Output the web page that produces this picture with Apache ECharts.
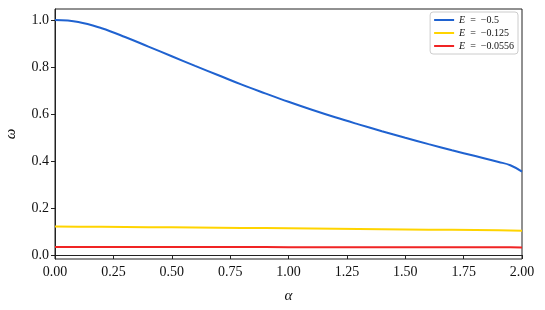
<!DOCTYPE html>
<html><head><meta charset="utf-8">
<script src="https://cdn.jsdelivr.net/npm/echarts@6/dist/echarts.min.js"></script>
<style>html,body{margin:0;padding:0;background:#fff}#c{width:545px;height:310px}</style>
</head><body><div id="c"></div>
<script>
const alpha = [0,0.1,0.2,0.3,0.4,0.5,0.6,0.7,0.8,0.9,1.0,1.1,1.2,1.3,1.4,1.5,1.6,1.7,1.8,1.9,1.95,2.0];
const omegaE05 = [1.0,0.992,0.965,0.928,0.887,0.846,0.805,0.765,0.725,0.688,0.652,0.618,0.586,0.556,0.527,0.499,0.472,0.446,0.421,0.396,0.382,0.355];
const omegaE0125 = [0.121,0.120,0.120,0.119,0.118,0.118,0.117,0.116,0.115,0.115,0.114,0.113,0.112,0.111,0.110,0.109,0.108,0.107,0.106,0.105,0.104,0.103];
const omegaE0556 = [0.0345,0.0344,0.0343,0.0342,0.0341,0.034,0.0339,0.0338,0.0337,0.0336,0.0335,0.0334,0.0333,0.0332,0.0331,0.033,0.0329,0.0328,0.0327,0.0326,0.0325,0.0324];
const seriesNames = ['E = −0.5','E = −0.125','E = −0.0556'];
const yTicks = [0,0.2,0.4,0.6,0.8,1.0];
const colors = ['#1f62d0','#ffd400','#f02424'];
const font = 'Liberation Serif';
function pairs(ys){ return alpha.map((a,i)=>[a, ys[i]]); }
const chart = echarts.init(document.getElementById('c'), null, {renderer:'canvas'});
const mk = (name, ys, c, sm) => ({name, type:'line', data:pairs(ys), smooth:sm, showSymbol:false, symbol:'none', lineStyle:{color:c,width:2}, itemStyle:{color:c}, animation:false});
chart.setOption({
  animation:false,
  grid:{left:55,right:23,top:9,bottom:51,show:true,borderColor:'#222',borderWidth:1,containLabel:false,outerBoundsMode:'none'},
  legend:{
    right:27, top:12, orient:'vertical', itemGap:3, itemWidth:20, itemHeight:2, icon:'rect',
    borderColor:'#cccccc', borderWidth:1, borderRadius:3, padding:[3,4,3,4],
    backgroundColor:'#fff',
    textStyle:{fontFamily:font,fontSize:10,color:'#111',
      rich:{i:{fontFamily:font,fontSize:10,fontStyle:'italic',color:'#111'},n:{fontFamily:font,fontSize:10,color:'#111'}}},
    formatter: n => '{i|E}{n|  =  ' + n.slice(4) + '}',
    data: seriesNames
  },
  xAxis:{type:'value',min:0,max:2,interval:0.25,
    axisLine:{show:true,lineStyle:{color:'#222',width:1}},
    axisTick:{show:true,length:4,lineStyle:{color:'#222'}},
    splitLine:{show:false},
    axisLabel:{fontFamily:font,fontSize:14,color:'#111',margin:6,formatter:v=>v.toFixed(2)},
    name:'α',nameLocation:'middle',nameGap:30,nameTextStyle:{fontFamily:font,fontSize:15,fontStyle:'italic',color:'#111'}
  },
  yAxis:{type:'value',min:-0.017,max:1.047,
    axisLine:{show:true,lineStyle:{color:'#222',width:1}},
    axisTick:{show:true,length:4,lineStyle:{color:'#222'},customValues:yTicks},
    splitLine:{show:false},
    axisLabel:{fontFamily:font,fontSize:14,color:'#111',margin:6,formatter:v=>v.toFixed(1),customValues:yTicks},
    name:'ω',nameLocation:'middle',nameGap:36,nameRotate:90,nameTextStyle:{fontFamily:font,fontSize:15,fontStyle:'italic',color:'#111'}
  },
  series:[mk(seriesNames[0],omegaE05,colors[0],0.4),mk(seriesNames[1],omegaE0125,colors[1],false),mk(seriesNames[2],omegaE0556,colors[2],false)]
});
</script></body></html>
